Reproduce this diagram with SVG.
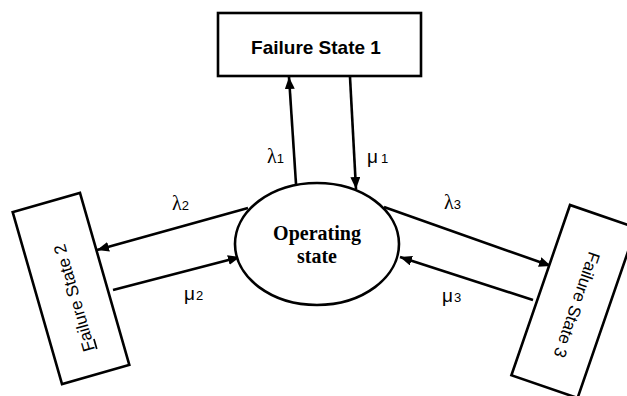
<svg xmlns="http://www.w3.org/2000/svg" width="627" height="396" viewBox="0 0 627 396">
<defs>
<marker id="ah" markerUnits="userSpaceOnUse" markerWidth="14" markerHeight="12" refX="12" refY="5" orient="auto">
<path d="M0,0 L12,5 L0,10 Z" fill="#000"/>
</marker>
<style>
.box{fill:#fff;stroke:#000;stroke-width:2.6}
.con{fill:none;stroke:#000;stroke-width:2.6}
.arr{marker-end:url(#ah)}
.sans{font-family:"Liberation Sans","DejaVu Sans",sans-serif;fill:#000}
.serif{font-family:"Liberation Serif","DejaVu Serif",serif;fill:#000}
.lam{font-size:20px}
.mu{font-size:19px}
.sub{font-size:13px}
</style>
</defs>
<rect width="627" height="396" fill="#fff"/>
<g id="connectors">
<line class="con arr" x1="296" y1="184" x2="289" y2="77"/>
<line class="con arr" x1="350" y1="77" x2="356" y2="189"/>
<line class="con arr" x1="248" y1="208" x2="97" y2="250"/>
<line class="con arr" x1="113" y1="290" x2="240" y2="257"/>
<line class="con arr" x1="384" y1="207" x2="551" y2="266"/>
<line class="con arr" x1="533" y1="300" x2="400" y2="257"/>
<text class="serif lam" x="267" y="163">λ<tspan class="sans sub">1</tspan></text>
<text class="sans mu" x="367" y="163">μ<tspan class="sub" dx="3">1</tspan></text>
<text class="serif lam" x="172" y="210">λ<tspan class="sans sub">2</tspan></text>
<text class="sans mu" x="184" y="300">μ<tspan class="sub" dx="1">2</tspan></text>
<text class="serif lam" x="444" y="209">λ<tspan class="sans sub">3</tspan></text>
<text class="sans mu" x="442" y="302">μ<tspan class="sub" dx="1">3</tspan></text>
</g>
<g id="failure1">
<rect class="box" x="218" y="13" width="203" height="63"/>
<text class="sans" x="316" y="54" font-size="19" font-weight="bold" text-anchor="middle">Failure State 1</text>
</g>
<g id="operating">
<ellipse class="box" cx="317" cy="244" rx="82" ry="61"/>
<text class="serif" x="317" y="240" font-size="20" font-weight="bold" text-anchor="middle">Operating</text>
<text class="serif" x="317" y="263" font-size="20" font-weight="bold" text-anchor="middle">state</text>
</g>
<g id="failure2">
<rect class="box" x="-35" y="-89.5" width="70" height="179" transform="translate(71,288.5) rotate(-16)"/>
<text class="sans" font-size="17" text-anchor="middle" transform="translate(74,298) rotate(-106)" x="0" y="6"><tspan text-decoration="underline">F</tspan>ailure State 2</text>
</g>
<g id="failure3">
<rect class="box" x="-35" y="-90" width="70" height="180" transform="translate(573.8,301.5) rotate(19)"/>
<text class="sans" font-size="17" text-anchor="middle" transform="translate(577,305) rotate(109)" x="0" y="6">Failure State 3</text>
</g>
</svg>
